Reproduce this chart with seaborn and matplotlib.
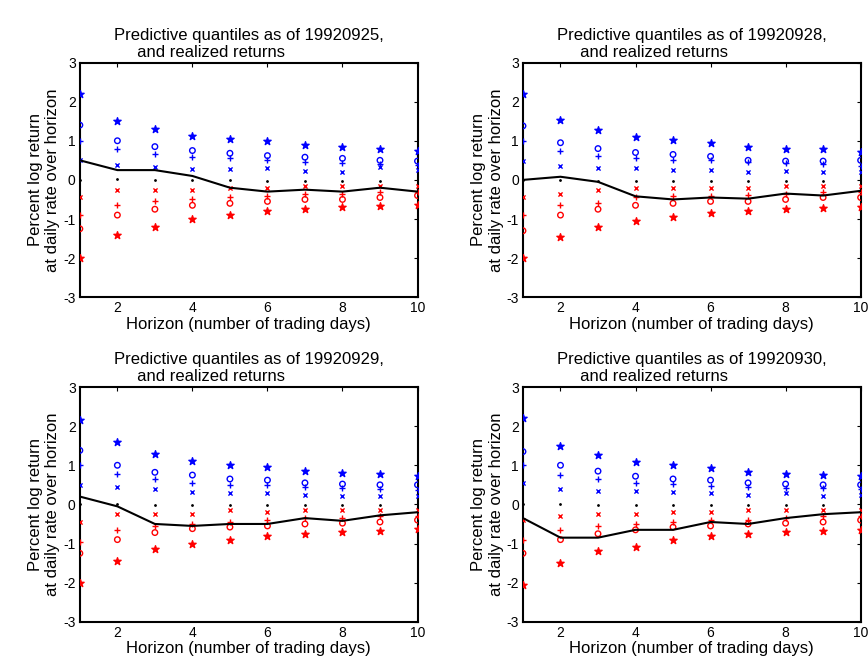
import numpy as np
import pandas as pd
import seaborn as sns
import matplotlib
matplotlib.use("Agg")
import matplotlib.pyplot as plt

horizon = [1, 2, 3, 4, 5, 6, 7, 8, 9, 10]
dates = ["19920925", "19920928", "19920929", "19920930"]

# upper quantiles (blue), median (black), lower quantiles (red), realized (line)
b1 = [[2.2, 1.5, 1.3, 1.12, 1.05, 1.0, 0.9, 0.85, 0.8, 0.75],
      [2.2, 1.52, 1.28, 1.1, 1.02, 0.95, 0.85, 0.8, 0.78, 0.72],
      [2.15, 1.6, 1.28, 1.1, 1.0, 0.95, 0.85, 0.8, 0.78, 0.72],
      [2.2, 1.5, 1.25, 1.08, 1.0, 0.92, 0.82, 0.78, 0.75, 0.72]]
b2 = [[1.4, 1.0, 0.85, 0.75, 0.68, 0.62, 0.58, 0.55, 0.5, 0.48],
      [1.38, 0.95, 0.8, 0.7, 0.65, 0.6, 0.5, 0.48, 0.48, 0.5],
      [1.38, 1.0, 0.82, 0.75, 0.65, 0.62, 0.55, 0.52, 0.5, 0.5],
      [1.35, 1.0, 0.85, 0.72, 0.65, 0.62, 0.55, 0.52, 0.5, 0.5]]
b3 = [[1.0, 0.78, 0.65, 0.58, 0.55, 0.5, 0.45, 0.42, 0.4, 0.38],
      [1.0, 0.75, 0.6, 0.55, 0.5, 0.5, 0.45, 0.42, 0.4, 0.35],
      [1.0, 0.78, 0.65, 0.55, 0.5, 0.5, 0.45, 0.42, 0.4, 0.38],
      [1.0, 0.75, 0.65, 0.55, 0.52, 0.48, 0.45, 0.42, 0.42, 0.4]]
b4 = [[0.5, 0.38, 0.32, 0.28, 0.28, 0.3, 0.22, 0.2, 0.32, 0.25],
      [0.48, 0.35, 0.3, 0.3, 0.25, 0.25, 0.2, 0.22, 0.2, 0.2],
      [0.5, 0.45, 0.4, 0.32, 0.28, 0.28, 0.25, 0.22, 0.22, 0.22],
      [0.55, 0.4, 0.35, 0.35, 0.32, 0.28, 0.25, 0.28, 0.22, 0.25]]
med = [[0.0, 0.02, 0.0, 0.0, 0.0, -0.02, -0.02, -0.02, -0.02, -0.02],
       [0.0, 0.0, -0.02, -0.02, -0.02, -0.02, -0.02, -0.02, -0.02, -0.02],
       [0.0, 0.0, -0.02, -0.02, -0.02, -0.02, -0.02, -0.02, -0.02, -0.02],
       [0.0, 0.0, -0.02, -0.02, -0.02, -0.02, -0.02, -0.02, -0.02, -0.02]]
r4 = [[-0.45, -0.25, -0.25, -0.25, -0.2, -0.2, -0.15, -0.15, -0.15, -0.15],
      [-0.45, -0.35, -0.25, -0.2, -0.2, -0.22, -0.2, -0.15, -0.15, -0.15],
      [-0.45, -0.25, -0.25, -0.25, -0.15, -0.2, -0.15, -0.15, -0.15, -0.15],
      [-0.4, -0.3, -0.25, -0.25, -0.2, -0.2, -0.15, -0.15, -0.15, -0.15]]
r3 = [[-0.9, -0.65, -0.55, -0.5, -0.45, -0.4, -0.35, -0.35, -0.3, -0.3],
      [-0.9, -0.65, -0.58, -0.45, -0.4, -0.4, -0.38, -0.35, -0.3, -0.3],
      [-0.95, -0.65, -0.55, -0.5, -0.45, -0.4, -0.35, -0.35, -0.3, -0.3],
      [-0.9, -0.65, -0.55, -0.5, -0.45, -0.4, -0.4, -0.35, -0.3, -0.3]]
r2 = [[-1.25, -0.9, -0.75, -0.65, -0.6, -0.55, -0.5, -0.5, -0.45, -0.4],
      [-1.3, -0.9, -0.75, -0.65, -0.6, -0.55, -0.55, -0.5, -0.45, -0.45],
      [-1.25, -0.9, -0.72, -0.62, -0.58, -0.55, -0.5, -0.48, -0.45, -0.4],
      [-1.25, -0.9, -0.75, -0.65, -0.58, -0.55, -0.5, -0.48, -0.45, -0.4]]
r1 = [[-2.0, -1.4, -1.2, -1.0, -0.9, -0.8, -0.75, -0.7, -0.68, -0.65],
      [-2.0, -1.45, -1.2, -1.05, -0.95, -0.85, -0.8, -0.75, -0.72, -0.7],
      [-2.0, -1.45, -1.15, -1.0, -0.9, -0.8, -0.75, -0.7, -0.68, -0.62],
      [-2.05, -1.5, -1.2, -1.1, -0.9, -0.82, -0.75, -0.7, -0.68, -0.65]]
realized = [[0.5, 0.25, 0.25, 0.1, -0.2, -0.3, -0.25, -0.3, -0.2, -0.3],
            [0.0, 0.08, -0.05, -0.42, -0.5, -0.45, -0.48, -0.35, -0.4, -0.28],
            [0.2, -0.05, -0.5, -0.55, -0.5, -0.5, -0.35, -0.42, -0.28, -0.2],
            [-0.35, -0.85, -0.85, -0.65, -0.65, -0.45, -0.5, -0.35, -0.25, -0.2]]

sns.set_style("white")
plt.rcParams["font.family"] = ["Liberation Sans", "DejaVu Sans"]
plt.rcParams["text.color"] = "black"
plt.rcParams["axes.labelcolor"] = "black"
plt.rcParams["xtick.color"] = "black"
plt.rcParams["ytick.color"] = "black"
plt.rcParams["axes.unicode_minus"] = False

fig = plt.figure(figsize=(8.68, 6.65), dpi=100)
positions = [[0.092, 0.553, 0.389, 0.353],
             [0.6025, 0.553, 0.389, 0.353],
             [0.092, 0.065, 0.389, 0.353],
             [0.6025, 0.065, 0.389, 0.353]]

levels = [(b1, "blue", "*", 30), (b2, "blue", "o", 16), (b3, "blue", "+", 20),
          (b4, "blue", "x", 9), (med, "black", ".", 4),
          (r4, "red", "x", 9), (r3, "red", "+", 20), (r2, "red", "o", 16),
          (r1, "red", "*", 30)]

for i in range(4):
    ax = fig.add_axes(positions[i])
    for vals, col, mk, sz in levels:
        sns.scatterplot(x=horizon, y=vals[i], ax=ax, color=col, marker=mk, s=sz,
                        facecolors="none" if mk == "o" else col,
                        edgecolor=col, linewidth=1.0, legend=False, zorder=3)
    sns.lineplot(x=horizon, y=realized[i], ax=ax, color="black", linewidth=1.5,
                 legend=False, zorder=4)
    ax.set_xlim(1, 10)
    ax.set_ylim(-3, 3)
    ax.set_xticks([2, 4, 6, 8, 10])
    ax.set_yticks([-3, -2, -1, 0, 1, 2, 3])
    ax.tick_params(direction="in", top=True, right=True, length=3, labelsize=10,
                   pad=3)
    for sp in ax.spines.values():
        sp.set_linewidth(1.5)
        sp.set_color("black")
    ax.set_xlabel("Horizon (number of trading days)", fontsize=12, labelpad=1)
    ax.set_ylabel("Percent log return\nat daily rate over horizon", fontsize=12,
                  labelpad=2)
    t = ax.set_title("Predictive quantiles as of %s,\n     and realized returns" % dates[i],
                     fontsize=12, pad=4, loc="center")
    t.set_multialignment("left")

fig.savefig("out.png", dpi=100)
